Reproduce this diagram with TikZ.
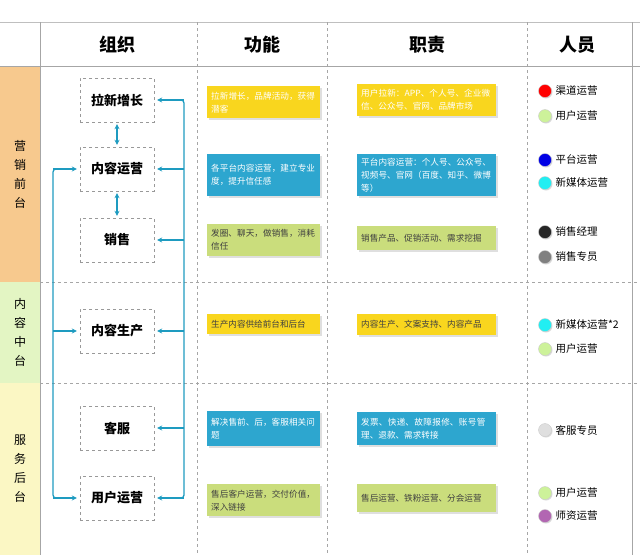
\documentclass[tikz,border=0pt]{standalone}
\usepackage{fontspec}
\setmainfont{Noto Sans CJK SC}
\XeTeXlinebreaklocale "zh"
\XeTeXlinebreakskip=0pt plus 1pt
\usetikzlibrary{positioning,shadows,arrows.meta}
\definecolor{bandorange}{HTML}{F7C98E}
\definecolor{bandgreen}{HTML}{E3F5C3}
\definecolor{bandyellow}{HTML}{FBF7C4}
\definecolor{cardyellow}{HTML}{F9D61E}
\definecolor{cardblue}{HTML}{2DA6CF}
\definecolor{cardgreen}{HTML}{CADD7C}
\definecolor{linkblue}{HTML}{1E9BC0}
\definecolor{dotcyan}{HTML}{22EEF2}
\definecolor{dotlime}{HTML}{CDF29A}
\tikzset{
  orgbox/.style={draw=gray!80, dashed, minimum width=74pt, minimum height=44pt, font=\bfseries\fontsize{13}{15}\selectfont},
  card/.style={anchor=north west, inner sep=4pt, align=left, font=\fontsize{8.6}{13}\selectfont, drop shadow={opacity=0.25, shadow xshift=2pt, shadow yshift=-2pt}},
  headtext/.style={font=\bfseries\fontsize{18}{20}\selectfont},
  bandtext/.style={align=center, font=\fontsize{12}{19}\selectfont},
  person/.style={circle, minimum size=13pt, inner sep=0pt, draw=gray!40, drop shadow={opacity=0.3, shadow xshift=1pt, shadow yshift=-1pt}},
  personlabel/.style={right, font=\fontsize{10.5}{12}\selectfont},
  link/.style={linkblue, line width=1.3pt, -{Stealth[length=5pt, width=5pt]}}
}
\begin{document}
\begin{tikzpicture}[x=1pt, y=-1pt]
  \def \ytop {22};
  \def \yhead {66};
  \def \yone {282};
  \def \ytwo {383};
  \def \ybot {555};
  \def \xorg {117};
  \def \xright {184};
  \def \xleft {53};
  \useasboundingbox (0,0) rectangle (640,555);

  % Draw bands on the left.
  \fill[bandorange] (0,\yhead) rectangle (40,\yone);
  \fill[bandgreen] (0,\yone) rectangle (40,\ytwo);
  \fill[bandyellow] (0,\ytwo) rectangle (40,\ybot);
  \node[bandtext] (bandfront) at (20,{(\yhead+\yone)/2}) {营\\销\\前\\台};
  \node[bandtext] (bandmid) at (20,{(\yone+\ytwo)/2}) {内\\容\\中\\台};
  \node[bandtext] (bandback) at (20,{(\ytwo+\ybot)/2}) {服\\务\\后\\台};

  % Draw grid lines.
  \draw[gray!50] (0,\ytop) -- (640,\ytop);
  \draw[gray!70] (0,\yhead) -- (640,\yhead);
  \draw[gray!70] (40,\ytop) -- (40,\ybot);
  \draw[gray!70] (632,\ytop) -- (632,\ybot);
  \foreach \x in {197, 327, 527} {
    \draw[gray!70, dashed] (\x,\ytop) -- (\x,\ybot);
  };
  \foreach \y in {\yone, \ytwo} {
    \draw[gray!70, dashed] (40,\y) -- (640,\y);
  };

  % Headers.
  \node[headtext] (headorg) at (\xorg,45) {组织};
  \node[headtext] (headfunc) at (262,45) {功能};
  \node[headtext] (headduty) at (427,45) {职责};
  \node[headtext] (headpeople) at (577,45) {人员};

  % Organisation boxes.
  \node[orgbox] (lxzz) at (\xorg,100) {拉新增长};
  \node[orgbox] (nryy) at (\xorg,169) {内容运营};
  \node[orgbox] (xs) at (\xorg,240) {销售};
  \node[orgbox] (nrsc) at (\xorg,331) {内容生产};
  \node[orgbox] (kf) at (\xorg,428) {客服};
  \node[orgbox] (yhyy) at (\xorg,498) {用户运营};

  % Connectors.
  \draw[link, {Stealth[length=5pt, width=5pt]}-{Stealth[length=5pt, width=5pt]}, shorten <=2pt, shorten >=2pt] (lxzz) -- (nryy);
  \draw[link, {Stealth[length=5pt, width=5pt]}-{Stealth[length=5pt, width=5pt]}, shorten <=2pt, shorten >=2pt] (nryy) -- (xs);
  \coordinate (rtop) at (\xright,100);
  \coordinate (rbot) at (\xright,498);
  \draw[linkblue, line width=1.3pt, rounded corners=3pt] ([xshift=10pt]lxzz.east) -- (rtop) -- (rbot) -- ([xshift=10pt]yhyy.east);
  \foreach \n in {lxzz, nryy, xs, nrsc, kf, yhyy} {
    \draw[link, shorten >=3pt] (\n.east -| rtop) -- (\n.east);
  };
  \coordinate (ltop) at (\xleft,169);
  \coordinate (lbot) at (\xleft,498);
  \draw[linkblue, line width=1.3pt, rounded corners=3pt] ([xshift=-10pt]nryy.west) -- (ltop) -- (lbot) -- ([xshift=-10pt]yhyy.west);
  \foreach \n in {nryy, nrsc, yhyy} {
    \draw[link, shorten >=3pt] (\n.west -| ltop) -- (\n.west);
  };

  % Function cards.
  \node[card, fill=cardyellow, text=white, text width=105pt, minimum height=32pt] (func1) at (207,86) {拉新增长，品牌活动，获得潜客};
  \node[card, fill=cardblue, text=white, text width=105pt, minimum height=42pt] (func2) at (207,154) {各平台内容运营，建立专业度，提升信任感};
  \node[card, fill=cardgreen, text=black!75, text width=105pt, minimum height=32pt] (func3) at (207,224) {发圈、聊天，做销售，消耗信任};
  \node[card, fill=cardyellow, text=black!75, text width=105pt, minimum height=20pt] (func4) at (207,314) {生产内容供给前台和后台};
  \node[card, fill=cardblue, text=white, text width=105pt, minimum height=35pt] (func5) at (207,411) {解决售前、后，客服相关问题};
  \node[card, fill=cardgreen, text=black!75, text width=105pt, minimum height=32pt] (func6) at (207,484) {售后客户运营，交付价值，深入链接};

  % Duty cards.
  \node[card, fill=cardyellow, text=white, text width=131pt, minimum height=32pt] (duty1) at (357,84) {用户拉新：APP、个人号、企业微信、公众号、官网、品牌市场};
  \node[card, fill=cardblue, text=white, text width=131pt, minimum height=41pt] (duty2) at (357,154) {平台内容运营：个人号、公众号、视频号、官网（百度、知乎、微博等）};
  \node[card, fill=cardgreen, text=black!75, text width=131pt, minimum height=24pt] (duty3) at (357,226) {销售产品、促销活动、需求挖掘};
  \node[card, fill=cardyellow, text=black!75, text width=131pt, minimum height=21pt] (duty4) at (357,314) {内容生产、文案支持、内容产品};
  \node[card, fill=cardblue, text=white, text width=131pt, minimum height=33pt] (duty5) at (357,412) {发票、快递、故障报修、账号管理、退款、需求转接};
  \node[card, fill=cardgreen, text=black!75, text width=131pt, minimum height=28pt] (duty6) at (357,484) {售后运营、铁粉运营、分会运营};

  % People.
  \foreach \y/\c/\t [count=\i] in {
      91/red/渠道运营, 116/dotlime/用户运营,
      160/blue!90!black/平台运营, 183/dotcyan/新媒体运营,
      232/black!85/销售经理, 257/gray/销售专员,
      325/dotcyan/新媒体运营*2, 349/dotlime/用户运营,
      430/gray!25/客服专员,
      493/dotlime/用户运营, 516/violet!60/师资运营} {
    \node[person, fill=\c] (dot\i) at (545,\y) {};
    \node[personlabel] (who\i) at (552,\y) {\t};
  };
\end{tikzpicture}
\end{document}
